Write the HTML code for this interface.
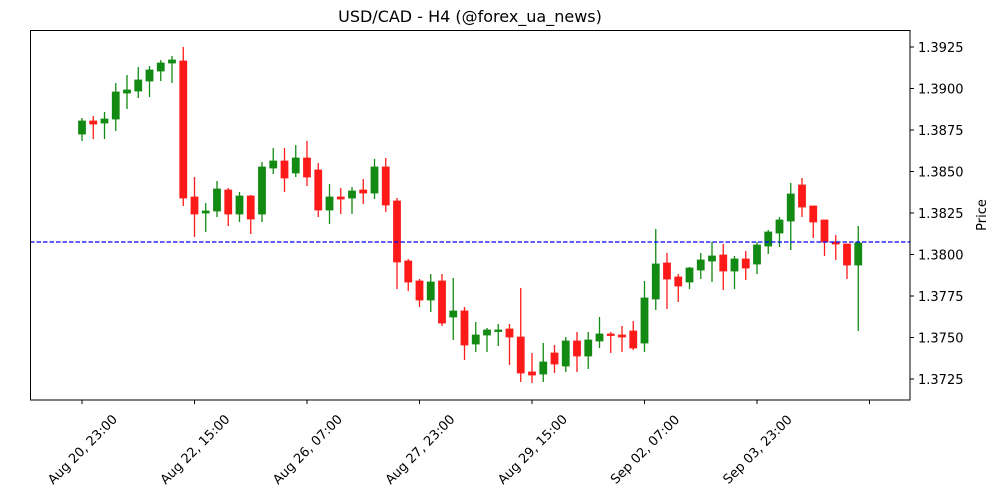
<!DOCTYPE html>
<html><head><meta charset="utf-8"><style>
html,body{margin:0;padding:0;background:#fff;}
svg{display:block;font-family:"DejaVu Sans","Liberation Sans",sans-serif;}
</style></head><body>
<svg id="s" width="1000" height="500" xmlns="http://www.w3.org/2000/svg">
<rect x="0" y="0" width="1000" height="500" fill="#fff"/>
<text x="470" y="22" font-size="16" text-anchor="middle">USD/CAD - H4 (@forex_ua_news)</text>
<g id="c"></g>
<line x1="30" y1="242" x2="910" y2="242" stroke="#0000ff" stroke-width="1.2" stroke-dasharray="4.5,2"/>
<rect x="30.5" y="30.5" width="879.5" height="369.5" fill="none" stroke="#000" stroke-width="1"/>
<g id="ax" font-size="13"></g>
<text transform="translate(986,215) rotate(-90)" font-size="13" text-anchor="middle">Price</text>
</svg>
<script>
var d=[
[1,121,134,118,141],[0,121,124,116,139],[1,119,123,112,139],[1,92,119,83,131],[1,90,93,75,109],
[1,80,91,67,98],[1,70,81,66,97],[1,63,71,60,81],[1,60,63,56,83],[0,61,198,47,206],
[0,197,214,177,237],[1,211,213,203,232],[1,189,211,181,217],[0,190,214,188,226],[1,196,214,192,222],
[0,196,219,195,234],[1,167,214,162,222],[1,161,168,148,174],[0,161,178,148,192],[1,158,173,145,177],
[0,158,177,141,186],[0,170,210,163,217],[1,197,210,184,224],[0,197,199,188,214],[1,191,198,187,214],
[0,190,193,179,204],[1,167,193,159,199],[0,167,205,158,212],[0,201,262,198,289],[0,261,282,259,291],
[0,281,300,279,307],[1,282,300,274,312],[0,281,323,274,326],[1,311,317,278,340],[0,311,345,307,360],
[1,335,344,322,352],[1,330,335,328,352],[1,330,331,324,346],[0,329,337,324,365],[0,337,373,288,382],
[0,372,375,353,383],[1,362,374,343,382],[0,353,364,345,373],[1,341,366,337,372],[0,341,356,332,372],
[1,340,356,332,369],[1,334,341,317,348],[0,334,335,332,353],[0,335,337,326,352],[0,331,348,321,350],
[1,298,343,281,352],[1,264,299,229,310],[0,263,279,253,309],[0,277,286,274,302],[1,268,282,267,289],
[1,260,270,253,279],[1,256,261,242,282],[0,255,271,244,290],[1,259,271,256,289],[0,259,268,251,280],
[1,245,264,242,274],[1,232,246,230,254],[1,220,233,217,247],[1,194,221,183,250],[0,185,207,178,217],
[0,206,222,206,238],[0,220,242,220,256],[0,242,244,235,260],[0,244,265,244,279],[1,243,265,226,331]];
var g=document.getElementById('c'),h='';
d.forEach(function(c,i){var x=82+i*11.25,col=c[0]?'#138a13':'#ff1a1a';
h+='<line x1="'+x+'" y1="'+c[3]+'" x2="'+x+'" y2="'+c[4]+'" stroke="'+col+'" stroke-width="1.3"/>';
var hh=Math.max(c[2]-c[1],1.5);
h+='<rect x="'+(x-3.5)+'" y="'+c[1]+'" width="7" height="'+hh+'" fill="'+col+'" stroke="'+col+'" stroke-width="0.8"/>';});
g.innerHTML=h;
var a='',labs=['1.3925','1.3900','1.3875','1.3850','1.3825','1.3800','1.3775','1.3750','1.3725'];
labs.forEach(function(l,i){var y=47+i*41.5;a+='<line x1="910" y1="'+y+'" x2="914" y2="'+y+'" stroke="#000"/><text x="918" y="'+(y+5)+'">'+l+'</text>';});
var xl=['Aug 20, 23:00','Aug 22, 15:00','Aug 26, 07:00','Aug 27, 23:00','Aug 29, 15:00','Sep 02, 07:00','Sep 03, 23:00',''];
xl.forEach(function(l,i){var x=82+i*112.5;a+='<line x1="'+x+'" y1="400" x2="'+x+'" y2="404" stroke="#000"/>';
if(l)a+='<text transform="translate('+x+',449) rotate(-45)" text-anchor="middle" y="5" font-size="13">'+l+'</text>';});
document.getElementById('ax').innerHTML=a;
</script>
</body></html>
